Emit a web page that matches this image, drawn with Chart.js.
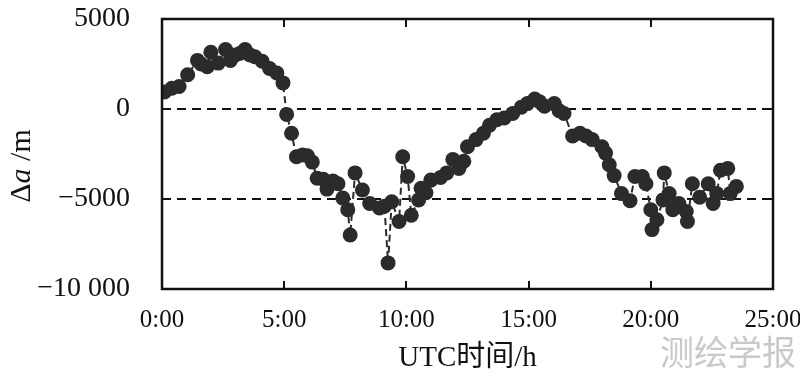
<!DOCTYPE html>
<html>
<head>
<meta charset="utf-8">
<script src="https://cdn.jsdelivr.net/npm/chart.js@4.4.1/dist/chart.umd.min.js"></script>
<style>
  html, body { margin: 0; padding: 0; background: #fff; }
</style>
</head>
<body>
<canvas id="chart" width="800" height="385"></canvas>
<script>
// UTC time (h) and semi-major axis deviation (m)
const hours = [
  0.1, 0.4, 0.7, 1.05, 1.45, 1.6, 1.85, 2.0, 2.3, 2.6, 2.8, 3.0, 3.2, 3.4, 3.6, 3.8,
  4.1, 4.4, 4.7, 4.95, 5.1, 5.3, 5.5, 5.75, 5.95, 6.15, 6.35, 6.6, 6.75, 7.0, 7.2,
  7.4, 7.6, 7.7, 7.9, 8.2, 8.5, 8.9, 9.1, 9.25, 9.4, 9.7, 9.85, 10.05, 10.2, 10.5,
  10.6, 10.8, 11.0, 11.4, 11.65, 11.9, 12.15, 12.35, 12.5, 12.85, 13.15, 13.4, 13.7,
  14.0, 14.35, 14.7, 14.95, 15.25, 15.45, 15.65, 16.05, 16.25, 16.45, 16.8, 17.1,
  17.35, 17.6, 18.0, 18.15, 18.3, 18.5, 18.8, 19.15, 19.35, 19.65, 19.8, 20.0, 20.05,
  20.25, 20.5, 20.55, 20.75, 20.9, 21.15, 21.45, 21.5, 21.7, 22.0, 22.35, 22.55,
  22.7, 22.85, 23.15, 23.25, 23.5
];
const deltaA = [
  950, 1150, 1250, 1900, 2700, 2500, 2350, 3150, 2550, 3300, 2700, 3000, 3100, 3300, 3000, 2900,
  2650, 2250, 2000, 1450, -300, -1350, -2650, -2550, -2600, -2950, -3850, -3900, -4450, -4000, -4150,
  -4950, -5600, -7000, -3550, -4500, -5250, -5500, -5400, -8550, -5150, -6250, -2650, -3750, -5900, -5050,
  -4400, -4650, -3950, -3800, -3550, -2800, -3300, -2900, -2100, -1700, -1350, -900, -600,
  -500, -250, 100, 300, 550, 400, 150, 300, -100, -250, -1500, -1350,
  -1500, -1700, -2100, -2450, -3100, -3700, -4700, -5100, -3750, -3750, -4150, -5600, -6700,
  -6150, -5050, -3550, -4700, -5600, -5250, -5700, -6250, -4150, -4900, -4150, -5250,
  -4700, -3400, -3300, -4700, -4300
];
const xTicks = [0, 5, 10, 15, 20, 25];
const yTicks = [5000, 0, -5000, -10000];
const refLines = [0, -5000];

const serif = "'Liberation Serif', 'Times New Roman', 'Noto Sans CJK SC', serif";

function fmtY(v) {
  const s = String(Math.abs(v));
  const body = Math.abs(v) >= 10000 ? s.replace(/\B(?=(\d{3})+(?!\d))/g, " ") : s;
  return (v < 0 ? "\u2212" : "") + body;
}

// dashed reference lines, frame with inner ticks, y title and watermark
const decor = {
  id: "decor",
  beforeDatasetsDraw(chart) {
    const { ctx, chartArea: a, scales: { y } } = chart;
    ctx.save();
    ctx.strokeStyle = "#111";
    ctx.lineWidth = 2;
    ctx.setLineDash([9, 6]);
    refLines.forEach(v => {
      const py = Math.round(y.getPixelForValue(v));
      ctx.beginPath();
      ctx.moveTo(a.left, py);
      ctx.lineTo(a.right, py);
      ctx.stroke();
    });
    ctx.restore();
  },
  afterDraw(chart) {
    const { ctx, chartArea: a, scales: { x, y } } = chart;
    ctx.save();
    ctx.setLineDash([]);
    ctx.strokeStyle = "#111";
    ctx.lineWidth = 2.5;
    ctx.strokeRect(a.left, a.top, a.right - a.left, a.bottom - a.top);
    const len = 8;
    ctx.lineWidth = 2;
    ctx.beginPath();
    xTicks.slice(1, -1).forEach(v => {
      const px = Math.round(x.getPixelForValue(v));
      ctx.moveTo(px, a.bottom); ctx.lineTo(px, a.bottom - len);
      ctx.moveTo(px, a.top); ctx.lineTo(px, a.top + len);
    });
    yTicks.slice(1, -1).forEach(v => {
      const py = Math.round(y.getPixelForValue(v));
      ctx.moveTo(a.left, py); ctx.lineTo(a.left + len, py);
      ctx.moveTo(a.right, py); ctx.lineTo(a.right - len, py);
    });
    ctx.stroke();
    ctx.restore();

    // y title: Δa /m with italic a
    ctx.save();
    ctx.translate(22, (a.top + a.bottom) / 2 + 12);
    ctx.rotate(-Math.PI / 2);
    ctx.fillStyle = "#111";
    ctx.textBaseline = "middle";
    const parts = [["Δ", "30px " + serif], ["a", "italic 30px " + serif], [" /m", "30px " + serif]];
    let w = 0;
    parts.forEach(p => { ctx.font = p[1]; w += ctx.measureText(p[0]).width; });
    let cx = -w / 2;
    parts.forEach(p => {
      ctx.font = p[1];
      ctx.fillText(p[0], cx, 0);
      cx += ctx.measureText(p[0]).width;
    });
    ctx.restore();

    // watermark
    ctx.save();
    ctx.font = "34px 'Noto Sans CJK SC', sans-serif";
    ctx.fillStyle = "#c9c9c9";
    ctx.textAlign = "right";
    ctx.textBaseline = "middle";
    ctx.fillText("测绘学报", 796, 352);
    ctx.restore();
  }
};

new Chart(document.getElementById("chart"), {
  type: "line",
  data: {
    datasets: [{
      data: hours.map((h, i) => ({ x: h, y: deltaA[i] })),
      borderColor: "#2b2b2b",
      borderWidth: 2,
      borderDash: [7, 4],
      pointRadius: 7.5,
      pointBackgroundColor: "#2b2b2b",
      pointBorderWidth: 0,
      tension: 0
    }]
  },
  options: {
    responsive: false,
    animation: false,
    devicePixelRatio: 1,
    layout: { padding: { top: 19, right: 27, left: 0, bottom: 0 } },
    plugins: { legend: { display: false }, tooltip: { enabled: false } },
    scales: {
      x: {
        type: "linear",
        min: 0,
        max: 25,
        grid: { display: false },
        border: { display: false },
        afterBuildTicks: s => { s.ticks = xTicks.map(v => ({ value: v })); },
        afterFit: s => { s.height = 96; s.paddingLeft = 0; s.paddingRight = 0; },
        ticks: {
          padding: 8,
          color: "#111",
          maxRotation: 0,
          autoSkip: false,
          font: { family: serif, size: 25 },
          callback: v => v + ":00"
        },
        title: {
          display: true,
          text: "UTC时间/h",
          color: "#111",
          font: { family: serif, size: 29 },
          padding: { top: 0, bottom: 9 }
        }
      },
      y: {
        min: -10000,
        max: 5000,
        grid: { display: false },
        border: { display: false },
        afterBuildTicks: s => { s.ticks = yTicks.map(v => ({ value: v })); },
        afterFit: s => { s.width = 162; s.paddingTop = 0; s.paddingBottom = 0; },
        ticks: {
          padding: 24,
          color: "#111",
          font: { family: serif, size: 28 },
          callback: v => fmtY(v)
        }
      }
    }
  },
  plugins: [decor]
});
</script>
</body>
</html>
